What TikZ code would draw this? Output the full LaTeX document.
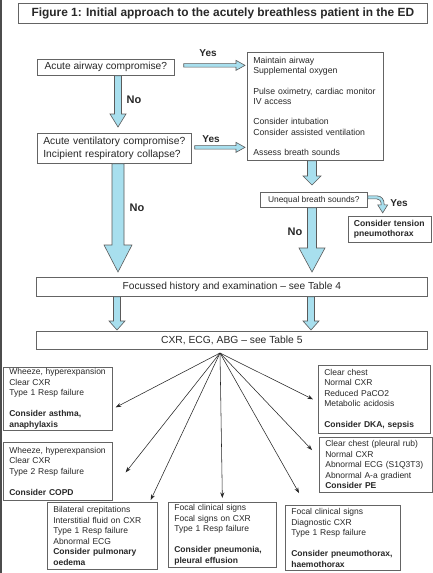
\documentclass[tikz,border=0pt]{standalone}
\usepackage{fontspec}
\setmainfont{Liberation Sans}
\usetikzlibrary{calc,arrows.meta}
\definecolor{abl}{RGB}{168,223,238}
\definecolor{bord}{RGB}{100,100,100}
\definecolor{txt}{RGB}{40,40,40}
\definecolor{aout}{RGB}{90,90,90}
\tikzset{
  box/.style={draw=bord, line width=0.7pt, fill=white, text=txt, anchor=north west,
    inner sep=0pt, font=\fontsize{8.5}{10.5}\selectfont},
  lbox/.style={box, align=left, inner xsep=6pt},
  lbl/.style={font=\bfseries\fontsize{10}{12}\selectfont, text=txt, inner sep=0pt},
  nolbl/.style={font=\bfseries\fontsize{11}{13}\selectfont, text=txt, inner sep=0pt},
  barrow/.style={draw=aout, fill=abl, line width=0.6pt, line join=miter},
  fanarrow/.style={draw=black!85, line width=0.55pt, -{Stealth[length=5.5pt,width=4pt]}}
}
% vertical block arrow: from, to, shaft half, head half, head length
\newcommand\vbarrow[5]{%
  \draw[barrow] let \p1=(#1), \p2=(#2) in
   (\x1-#3,\y1) -- (\x1-#3,\y2+#5) -- (\x1-#4,\y2+#5) -- (\x1,\y2) --
   (\x1+#4,\y2+#5) -- (\x1+#3,\y2+#5) -- (\x1+#3,\y1) -- cycle;}
% horizontal block arrow (to the right)
\newcommand\hbarrow[5]{%
  \draw[barrow] let \p1=(#1), \p2=(#2) in
   (\x1,\y1+#3) -- (\x2-#5,\y1+#3) -- (\x2-#5,\y1+#4) -- (\x2,\y1) --
   (\x2-#5,\y1-#4) -- (\x2-#5,\y1-#3) -- (\x1,\y1-#3) -- cycle;}
\begin{document}
\begin{tikzpicture}[x=1pt,y=-1pt]
\useasboundingbox (0,0) rectangle (433,573);
\fill[white] (0,0) rectangle (433,573);
\draw[black!70, line width=1.5pt] (0.75,0) -- (0.75,573);

% title
\node[box, minimum width=409pt, minimum height=20pt, font=\bfseries\fontsize{11.9}{14}\selectfont] (title) at (18,3)
  {Figure 1: Initial approach to the acutely breathless patient in the ED};

% upper flow
\node[box, minimum width=137pt, minimum height=16pt, font=\fontsize{10.2}{12}\selectfont] (A) at (37,59)
  {Acute airway compromise?};
\node[lbox, text width=124pt, minimum height=108pt, font=\fontsize{8.7}{10.3}\selectfont] (B) at (247,52)
  {Maintain airway\\Supplemental oxygen\\[10.3pt]Pulse oximetry, cardiac monitor\\IV access\\[10.3pt]Consider intubation\\Consider assisted ventilation\\[10.3pt]Assess breath sounds};
\node[lbox, text width=142pt, minimum height=30pt, font=\fontsize{10.3}{12.6}\selectfont] (C) at (37,133)
  {Acute ventilatory compromise?\\Incipient respiratory collapse?};
\node[box, minimum width=107pt, minimum height=15pt, font=\fontsize{8.4}{10}\selectfont] (D) at (260,192)
  {Unequal breath sounds?};
\node[lbox, inner xsep=5.5pt, text width=72pt, minimum height=26pt, font=\bfseries\fontsize{8.6}{10}\selectfont] (E) at (348,216)
  {Consider tension\\pneumothorax};
\node[box, minimum width=391pt, minimum height=19pt, font=\fontsize{10.2}{12}\selectfont] (F) at (36,277)
  {Focussed history and examination -- see Table 4};
\node[box, minimum width=391pt, minimum height=18pt, font=\fontsize{10.3}{12}\selectfont] (G) at (36,331)
  {CXR, ECG, ABG -- see Table 5};

% lower boxes
\node[lbox, text width=97pt, minimum height=63pt] (asthma) at (3,367)
  {Wheeze, hyperexpansion\\Clear CXR\\Type 1 Resp failure\\[10.5pt]\textbf{Consider asthma,}\\\textbf{anaphylaxis}};
\node[lbox, text width=97pt, minimum height=58pt] (copd) at (3,442)
  {Wheeze, hyperexpansion\\Clear CXR\\Type 2 Resp failure\\[10.5pt]\textbf{Consider COPD}};
\node[lbox, text width=98pt, minimum height=67pt] (oedema) at (47,502)
  {Bilateral crepitations\\Interstitial fluid on CXR\\Type 1 Resp failure\\Abnormal ECG\\\textbf{Consider pulmonary}\\\textbf{oedema}};
\node[lbox, text width=96pt, minimum height=65pt] (pneumonia) at (168,502)
  {Focal clinical signs\\Focal signs on CXR\\Type 1 Resp failure\\[10.5pt]\textbf{Consider pneumonia,}\\\textbf{pleural effusion}};
\node[lbox, text width=103pt, minimum height=65pt] (pntx) at (285,505)
  {Focal clinical signs\\Diagnostic CXR\\Type 1 Resp failure\\[10.5pt]\textbf{Consider pneumothorax,}\\\textbf{haemothorax}};
\node[lbox, text width=100pt, minimum height=68pt] (dka) at (318,365)
  {Clear chest\\Normal CXR\\Reduced PaCO2\\Metabolic acidosis\\[10.5pt]\textbf{Consider DKA, sepsis}};
\node[lbox, text width=101pt, minimum height=55pt] (pe) at (319,437)
  {Clear chest (pleural rub)\\Normal CXR\\Abnormal ECG (S1Q3T3)\\Abnormal A-a gradient\\\textbf{Consider PE}};

% columns for block arrows
\coordinate (colL) at (118,0);
\coordinate (colR) at (312,0);
\coordinate (colL2) at (117,0);
\coordinate (colR2) at (311,0);

% block arrows
\hbarrow{$(A.east)+(9,-2)$}{$(B.west|-A.east)+(-2,-2)$}{1.8pt}{5pt}{9pt}
\hbarrow{$(C.east)+(3,-1)$}{$(B.west|-C.east)+(-2,-1)$}{1.8pt}{5pt}{9pt}
\vbarrow{A.south -| colL}{$(C.north -| colL)+(0,-6)$}{3.5pt}{8pt}{13pt}
\vbarrow{C.south -| colL}{$(F.north -| colL)+(0,-5)$}{6pt}{14pt}{27pt}
\vbarrow{B.south -| colR}{$(D.north -| colR)+(0,-7)$}{4.5pt}{9pt}{9pt}
\vbarrow{D.south -| colR}{$(F.north -| colR)+(0,-5)$}{4.5pt}{13pt}{24pt}
\vbarrow{F.south -| colL2}{$(G.north -| colL2)+(0,-1)$}{3.5pt}{8pt}{9pt}
\vbarrow{F.south -| colR2}{$(G.north -| colR2)+(0,-1)$}{3.5pt}{8pt}{9pt}

% curved yes arrow from D to E
\begin{scope}[shift={(D.east)}]
\draw[barrow] (0,-4) -- (9,-4) .. controls (14,-4) and (16.5,-0.5) .. (16.5,5) -- (20,5) -- (15,13) -- (10,5)
  -- (13.5,5) .. controls (13.5,1) and (12,-1) .. (9,-1) -- (0,-1) -- cycle;
\end{scope}

% labels
\node[lbl] at (208,53) {Yes};
\node[lbl] at (211,139) {Yes};
\node[lbl] at (399,203) {Yes};
\node[nolbl] at (134,100) {No};
\node[nolbl] at (137,208) {No};
\node[nolbl] at (295,232) {No};

% fan of arrows
\coordinate (fan) at (220,353);
\draw[fanarrow] (fan) -- ($(asthma.east)+(3,8.5)$);
\draw[fanarrow] (fan) -- ($(dka.west)+(-5,0)$);
\draw[fanarrow] (fan) -- ($(pe.north west)+(-7,13)$);
\draw[fanarrow] (fan) -- ($(copd.east)+(13,1)$);
\draw[fanarrow] (fan) -- ($(oedema.north east)+(-7,-2)$);
\draw[fanarrow] (fan) -- ($(pneumonia.north)+(0,-4)$);
\draw[fanarrow] (fan) -- ($(pntx.north west)+(14,-12)$);
\end{tikzpicture}
\end{document}
